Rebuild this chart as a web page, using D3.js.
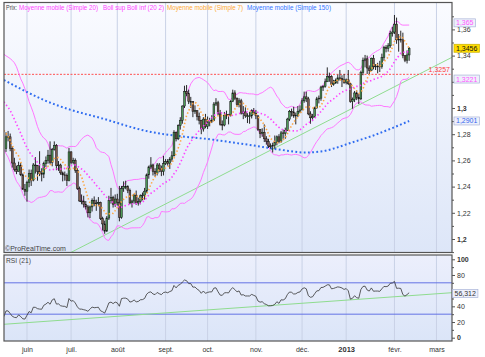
<!DOCTYPE html>
<html><head><meta charset="utf-8">
<script src="https://cdn.jsdelivr.net/npm/d3@7"></script>
<style>
body{margin:0;background:#fff;}
svg text{font-family:"Liberation Sans",Arial,sans-serif;}
</style></head><body>
<svg id="chart" width="485" height="357"></svg>
<script>
// ---- data (EUR/USD daily, 18 May 2012 -> 12 Feb 2013), trading-day index ----
const priorCloses = [1.3085,1.3140,1.3220,1.3160,1.3190,1.3235,1.3230,1.3240,1.3235,1.3220,1.3160,1.3150,1.3080,1.3045,1.2975,1.2935,1.2945,1.2915,1.2835,1.2765,1.2720,1.2690];
const closes = [
1.2780,1.2780,1.2690,1.2580,1.2530,1.2515,1.2560,1.2490,1.2380,1.2365,
1.2430,1.2500,1.2450,1.2565,1.2560,1.2515,1.2500,1.2495,1.2575,1.2600,
1.2640,1.2585,1.2685,1.2715,1.2560,1.2565,1.2505,1.2490,1.2485,1.2445,
1.2665,1.2585,1.2600,1.2525,1.2385,1.2290,1.2290,1.2265,1.2245,1.2200,
1.2245,1.2295,1.2270,1.2275,1.2280,1.2155,1.2115,1.2060,1.2160,1.2295,
1.2315,1.2265,1.2305,1.2280,1.2165,1.2385,1.2400,1.2400,1.2370,1.2275,
1.2290,1.2335,1.2275,1.2285,1.2330,1.2335,1.2365,1.2490,1.2550,1.2565,
1.2515,1.2500,1.2565,1.2535,1.2515,1.2575,1.2590,1.2575,1.2610,1.2635,
1.2815,1.2765,1.2865,1.2905,1.3015,1.3125,1.3110,1.3050,1.3050,1.2975,
1.2980,1.2935,1.2905,1.2840,1.2915,1.2860,1.2890,1.2905,1.2905,1.3030,
1.3040,1.2955,1.2875,1.2870,1.2945,1.2950,1.2945,1.3050,1.3115,1.3075,
1.3025,1.3055,1.2960,1.2970,1.2940,1.2940,1.2940,1.2980,1.2960,1.2940,
1.2835,1.2805,1.2815,1.2765,1.2745,1.2710,1.2710,1.2715,1.2735,1.2780,
1.2745,1.2810,1.2805,1.2830,1.2915,1.2975,1.2970,1.2940,1.2945,1.2975,
1.2985,1.3055,1.3085,1.3070,1.2955,1.2925,1.2935,1.3000,1.3070,1.3075,
1.3160,1.3165,1.3200,1.3240,1.3240,1.3180,1.3190,1.3210,1.3230,1.3225,
1.3215,1.3195,1.3215,1.3185,1.3050,1.3065,1.3115,1.3080,1.3070,1.3270,
1.3365,1.3375,1.3305,1.3285,1.3380,1.3315,1.3320,1.3320,1.3315,1.3385,
1.3460,1.3455,1.3475,1.3570,1.3580,1.3640,1.3520,1.3525,1.3520,1.3400,
1.3365,1.3405,1.3456];
const highs = [
1.2815,1.2825,1.2805,1.2710,1.2620,1.2560,1.2590,1.2580,1.2500,1.2420,
1.2445,1.2530,1.2530,1.2580,1.2625,1.2565,1.2670,1.2540,1.2590,1.2630,
1.2680,1.2745,1.2695,1.2745,1.2725,1.2595,1.2575,1.2515,1.2515,1.2500,
1.2695,1.2670,1.2620,1.2615,1.2540,1.2400,1.2340,1.2330,1.2290,1.2260,
1.2255,1.2310,1.2325,1.2300,1.2320,1.2285,1.2170,1.2140,1.2175,1.2330,
1.2390,1.2330,1.2340,1.2345,1.2405,1.2405,1.2440,1.2445,1.2410,1.2385,
1.2300,1.2345,1.2370,1.2315,1.2340,1.2355,1.2390,1.2500,1.2560,1.2625,
1.2575,1.2540,1.2580,1.2580,1.2560,1.2635,1.2610,1.2610,1.2625,1.2670,
1.2830,1.2820,1.2875,1.2930,1.3020,1.3170,1.3175,1.3140,1.3085,1.3050,
1.3020,1.2980,1.2965,1.2910,1.2930,1.2955,1.2935,1.2925,1.2945,1.3045,
1.3075,1.3055,1.2985,1.2905,1.2970,1.2980,1.2955,1.3060,1.3140,1.3135,
1.3080,1.3075,1.3070,1.3015,1.3005,1.2960,1.2970,1.2990,1.3000,1.2985,
1.2945,1.2840,1.2845,1.2875,1.2785,1.2765,1.2730,1.2735,1.2790,1.2790,
1.2800,1.2825,1.2835,1.2850,1.2925,1.2985,1.2995,1.3010,1.2965,1.3015,
1.3020,1.3075,1.3125,1.3125,1.3085,1.2975,1.2955,1.3010,1.3085,1.3095,
1.3170,1.3175,1.3225,1.3310,1.3270,1.3250,1.3215,1.3225,1.3255,1.3290,
1.3250,1.3260,1.3225,1.3290,1.3190,1.3080,1.3130,1.3135,1.3110,1.3285,
1.3385,1.3405,1.3400,1.3325,1.3385,1.3405,1.3335,1.3345,1.3360,1.3415,
1.3475,1.3480,1.3495,1.3590,1.3620,1.3710,1.3690,1.3565,1.3590,1.3575,
1.3400,1.3440,1.3465];
const lows = [
1.2665,1.2745,1.2670,1.2545,1.2515,1.2495,1.2515,1.2480,1.2375,1.2330,
1.2285,1.2395,1.2405,1.2440,1.2500,1.2445,1.2480,1.2440,1.2465,1.2550,
1.2575,1.2570,1.2555,1.2675,1.2525,1.2520,1.2490,1.2440,1.2445,1.2405,
1.2440,1.2570,1.2570,1.2505,1.2375,1.2285,1.2265,1.2240,1.2225,1.2165,
1.2160,1.2210,1.2250,1.2215,1.2250,1.2145,1.2065,1.2040,1.2055,1.2145,
1.2270,1.2240,1.2245,1.2255,1.2135,1.2155,1.2360,1.2380,1.2350,1.2265,
1.2240,1.2270,1.2260,1.2255,1.2265,1.2295,1.2300,1.2350,1.2460,1.2535,
1.2485,1.2475,1.2485,1.2510,1.2480,1.2485,1.2565,1.2560,1.2535,1.2590,
1.2630,1.2745,1.2755,1.2835,1.2880,1.3000,1.3090,1.3030,1.3000,1.2930,
1.2955,1.2905,1.2875,1.2800,1.2820,1.2845,1.2840,1.2860,1.2885,1.2900,
1.3015,1.2945,1.2865,1.2830,1.2860,1.2915,1.2875,1.2935,1.3045,1.3060,
1.3010,1.3005,1.2950,1.2915,1.2925,1.2885,1.2880,1.2920,1.2950,1.2915,
1.2825,1.2770,1.2780,1.2740,1.2720,1.2695,1.2690,1.2660,1.2690,1.2715,
1.2730,1.2735,1.2765,1.2765,1.2825,1.2900,1.2935,1.2925,1.2875,1.2930,
1.2960,1.2985,1.3040,1.3045,1.2945,1.2880,1.2900,1.2925,1.2995,1.3035,
1.3055,1.3130,1.3155,1.3200,1.3200,1.3160,1.3170,1.3185,1.3185,1.3210,
1.3160,1.3185,1.3180,1.3175,1.3040,1.2995,1.3045,1.3060,1.3030,1.3060,
1.3250,1.3310,1.3260,1.3255,1.3285,1.3295,1.3290,1.3265,1.3275,1.3300,
1.3360,1.3425,1.3430,1.3460,1.3545,1.3565,1.3490,1.3430,1.3500,1.3380,
1.3350,1.3340,1.3360];
// 150-day simple moving average at sample indices
const sma150Index  = [-1, 10, 18, 30, 45, 69, 80, 96, 116, 135, 142, 150, 157, 164, 174, 184, 192];
const sma150Values = [1.3214,1.3122,1.3061,1.2990,1.2924,1.2817,1.2790,1.2763,1.2718,1.2672,1.2660,1.2668,1.2695,1.2733,1.2785,1.2847,1.2901];
const monthLabels = ["juin","juil.","août","sept.","oct.","nov.","déc.","2013","févr.","mars"];
const monthIndex  = [10, 31, 53, 76, 96, 119, 141, 162, 185, 205];
const priceTicksMajor = [1.20,1.22,1.24,1.26,1.28,1.30,1.32,1.34,1.36];
const priceTicksMinor = [1.19,1.21,1.23,1.25,1.27,1.29,1.31,1.33,1.35,1.37];
const priceTicksHidden = [1.32];   // label covered by a price tag
const rsiTicksMajor = [0,20,40,60,80,100];
const rsiTicksMinor = [10,30,50,70,90];
const rsiTicksHidden = [60];       // label covered by the RSI tag
const priceTagValues = [1.365, 1.3456, 1.3221, 1.2901];
const priceTagTexts  = ["1,365","1,3456","1,3221","1,2901"];
const supportLevel = 1.3257;
const trendIndex = [30, 212.4], trendPrice = [1.189, 1.3387];
const rsiTrendIndex = [-1, 212.4], rsiTrendValue = [17.1, 57.4];
const rsiLevels = [30, 70];
const rsiLast = 56.312;
const legendTexts = ["Prix:","Moyenne mobile (Simple 20)","Boll sup Boll inf (20 2)","Moyenne mobile (Simple 7)","Moyenne mobile (Simple 150)"];

// ---- layout ----
const L = 4, R = 452, mainTop = 2.5, mainBot = 252.5, rsiTop = 255, rsiBot = 341;
const svg = d3.select("#chart");
const x = d3.scaleLinear().domain([-0.95, 212.4]).range([L, R]);
const y = d3.scaleLinear().domain([1.2, 1.36]).range([239, 239 - 0.16*1310]);
const ry = d3.scaleLinear().domain([0, 100]).range([337.7, 259.3]);
const fr = d3.formatLocale({decimal:",", thousands:" ", grouping:[3], currency:["","€"]});
const fmtP = fr.format(".3~f");

const defs = svg.append("defs");
const g1 = defs.append("linearGradient").attr("id","bgMain").attr("x1",0).attr("y1",0).attr("x2",0).attr("y2",1);
g1.append("stop").attr("offset","0%").attr("stop-color","#fafbff");
g1.append("stop").attr("offset","100%").attr("stop-color","#dde6f8");
const g2 = defs.append("linearGradient").attr("id","bgRsi").attr("x1",0).attr("y1",0).attr("x2",0).attr("y2",1);
g2.append("stop").attr("offset","0%").attr("stop-color","#eceffc");
g2.append("stop").attr("offset","100%").attr("stop-color","#dbe5f8");
defs.append("clipPath").attr("id","clipMain").append("rect").attr("x",L).attr("y",mainTop).attr("width",R-L).attr("height",mainBot-mainTop);
defs.append("clipPath").attr("id","clipRsi").append("rect").attr("x",L).attr("y",rsiTop).attr("width",R-L).attr("height",rsiBot-rsiTop);

svg.append("rect").attr("x",L).attr("y",mainTop).attr("width",R-L).attr("height",mainBot-mainTop).attr("fill","url(#bgMain)");
svg.append("rect").attr("x",L).attr("y",rsiTop).attr("width",R-L).attr("height",rsiBot-rsiTop).attr("fill","url(#bgRsi)");

[[mainTop,mainBot],[rsiTop,rsiBot]].forEach(([t,b])=>{
  svg.append("g").selectAll("line").data(monthIndex).join("line")
    .attr("x1",d=>x(d)).attr("x2",d=>x(d)).attr("y1",t).attr("y2",b)
    .attr("stroke","#c9d2e6").attr("stroke-width",1);
});

// ---- indicators ----
const all = priorCloses.concat(closes);
const off = priorCloses.length;
const idxs = d3.range(-1, closes.length);
function sma(k,n){ return d3.mean(all.slice(k-n+1,k+1)); }
function bb(k){ const s=all.slice(k-19,k+1), m=d3.mean(s), sd=Math.sqrt(d3.mean(s,v=>(v-m)*(v-m))); return [m+2*sd, m-2*sd]; }
const sma20 = idxs.map(i=>({i, v:sma(i+off,20)}));
const sma7  = idxs.map(i=>({i, v:sma(i+off,7)}));
const bbUp = idxs.map(i=>({i, v:bb(i+off)[0]}));
const bbLo = idxs.map(i=>({i, v:bb(i+off)[1]}));
const N=21; let ag=0, al=0; const rsi=[];
for(let k=1;k<all.length;k++){
  const ch=all[k]-all[k-1], gn=Math.max(ch,0), ls=Math.max(-ch,0);
  if(k<=N){ ag+=gn/N; al+=ls/N; }
  else { ag=(ag*(N-1)+gn)/N; al=(al*(N-1)+ls)/N; }
  if(k>=N) rsi.push({i:k-off, v: 100 - 100/(1+ag/al)});
}

const main = svg.append("g").attr("clip-path","url(#clipMain)");
const line = d3.line().x(d=>x(d.i)).y(d=>y(d.v));
main.append("line").attr("x1",x(trendIndex[0])).attr("y1",y(trendPrice[0])).attr("x2",x(trendIndex[1])).attr("y2",y(trendPrice[1]))
  .attr("stroke","#8fdc8f").attr("stroke-width",1);
main.append("line").attr("x1",L).attr("x2",R).attr("y1",y(supportLevel)).attr("y2",y(supportLevel))
  .attr("stroke","#ff5050").attr("stroke-width",1).attr("stroke-dasharray","2,1.5");
main.append("path").datum(bbUp).attr("d",line).attr("fill","none").attr("stroke","#ff77ff").attr("stroke-width",1);
main.append("path").datum(bbLo).attr("d",line).attr("fill","none").attr("stroke","#ff77ff").attr("stroke-width",1);
const sma150 = sma150Index.map((i,k)=>({i, v:sma150Values[k]}));
main.append("path").datum(sma150).attr("d",d3.line().x(d=>x(d.i)).y(d=>y(d.v)).curve(d3.curveMonotoneX))
  .attr("fill","none").attr("stroke","#2f6cf0").attr("stroke-width",2).attr("stroke-dasharray","1.8,2.4");

const cg = main.append("g");
closes.forEach((c,i)=>{
  const o = i===0 ? priorCloses[priorCloses.length-1] : closes[i-1];
  const cx = x(i);
  cg.append("line").attr("x1",cx).attr("x2",cx).attr("y1",y(highs[i])).attr("y2",y(lows[i])).attr("stroke","#111").attr("stroke-width",0.9);
  const top = y(Math.max(o,c)), bot = y(Math.min(o,c));
  cg.append("rect").attr("x",cx-0.9).attr("width",1.8).attr("y",top).attr("height",Math.max(bot-top,0.8))
    .attr("fill", c>=o ? "#4e9a58" : "#7a5a4e").attr("stroke","#111").attr("stroke-width",0.5);
});
main.append("path").datum(sma20).attr("d",line).attr("fill","none").attr("stroke","#ff40ff").attr("stroke-width",1.6).attr("stroke-dasharray","1.4,2.4");
main.append("path").datum(sma7).attr("d",line).attr("fill","none").attr("stroke","#ffa640").attr("stroke-width",1.6).attr("stroke-dasharray","1.4,2.2");

svg.append("text").attr("x",450).attr("y",y(supportLevel)-2).attr("text-anchor","end").attr("font-size",7).attr("fill","#ff4040").text(fr.format(".4f")(supportLevel));

// ---- RSI panel ----
const rg = svg.append("g").attr("clip-path","url(#clipRsi)");
rg.selectAll("line.lv").data(rsiLevels).join("line").attr("x1",L).attr("x2",R).attr("y1",d=>ry(d)).attr("y2",d=>ry(d))
  .attr("stroke","#6472e4").attr("stroke-width",1);
rg.append("line").attr("x1",x(rsiTrendIndex[0])).attr("y1",ry(rsiTrendValue[0])).attr("x2",x(rsiTrendIndex[1])).attr("y2",ry(rsiTrendValue[1]))
  .attr("stroke","#8fdc8f").attr("stroke-width",1);
rg.append("path").datum(rsi).attr("d",d3.line().x(d=>x(d.i)).y(d=>ry(d.v))).attr("fill","none").attr("stroke","#333").attr("stroke-width",0.8);

svg.append("rect").attr("x",L).attr("y",mainTop).attr("width",R-L).attr("height",mainBot-mainTop).attr("fill","none").attr("stroke","#555").attr("stroke-width",1.2);
svg.append("rect").attr("x",L).attr("y",rsiTop).attr("width",R-L).attr("height",rsiBot-rsiTop).attr("fill","none").attr("stroke","#555").attr("stroke-width",1.2);

// ---- axes ----
function styleAxis(g){ g.select(".domain").remove(); g.selectAll("line").attr("stroke","#555"); g.selectAll("text").attr("fill","#333").attr("font-size",7).attr("font-family","Liberation Sans, Arial, sans-serif"); }
svg.append("g").attr("transform",`translate(${R},0)`).call(d3.axisRight(y).tickValues(priceTicksMinor).tickSize(2).tickFormat("")).call(styleAxis);
const ya = svg.append("g").attr("transform",`translate(${R},0)`).call(d3.axisRight(y).tickValues(priceTicksMajor).tickSize(3).tickPadding(2).tickFormat(fmtP)).call(styleAxis);
ya.selectAll("text").attr("font-weight",d=>(Math.abs(d-1.2)<1e-9||Math.abs(d-1.3)<1e-9)?"bold":"normal")
  .filter(d=>priceTicksHidden.some(h=>Math.abs(h-d)<1e-9)).remove();
svg.append("g").attr("transform",`translate(${R},0)`).call(d3.axisRight(ry).tickValues(rsiTicksMinor).tickSize(2).tickFormat("")).call(styleAxis);
const ra = svg.append("g").attr("transform",`translate(${R},0)`).call(d3.axisRight(ry).tickValues(rsiTicksMajor).tickSize(3).tickPadding(2)).call(styleAxis);
ra.selectAll("text").attr("font-weight",d=>(d===0||d===100)?"bold":"normal")
  .filter(d=>rsiTicksHidden.includes(d)).remove();
const xa = svg.append("g").attr("transform",`translate(0,${rsiBot+4})`)
  .call(d3.axisBottom(x).tickValues(monthIndex).tickSize(0).tickPadding(2).tickFormat((d,k)=>monthLabels[k])).call(styleAxis);
xa.selectAll("text").attr("font-weight",(d,k)=>monthLabels[k]==="2013"?"bold":"normal").attr("font-size",(d,k)=>monthLabels[k]==="2013"?7.5:7);

// price tags
const tagStyle = [{fill:"#eef0fb",stroke:"#a9b4d8",col:"#ff55ff"},{fill:"#ffdc00",stroke:"#c8b000",col:"#111"},{fill:"#eef0fb",stroke:"#a9b4d8",col:"#ff55ff"},{fill:"#eef0fb",stroke:"#a9b4d8",col:"#3366ee"}];
function tag(px, gy, txt, st){
  const g = svg.append("g");
  const r = g.append("rect").attr("x",px).attr("y",gy-4).attr("height",8)
    .attr("fill",st.fill).attr("stroke",st.stroke).attr("stroke-width",0.7);
  const t = g.append("text").attr("x",px+2).attr("y",gy+2.5).attr("font-size",7).attr("fill",st.col).text(txt);
  r.attr("width", t.node().getComputedTextLength()+4);
}
priceTagValues.forEach((v,k)=> tag(454, y(v), priceTagTexts[k], tagStyle[k]));
tag(452.5, ry(rsiLast), fr.format(".3f")(rsiLast), {fill:"#eef0fb",stroke:"#a9b4d8",col:"#333"});

// ---- legend / captions ----
const legX = [6, 19, 103, 167, 247], legW = [11, 79, 61, 76, 84];
const legC = ["#444","#ff44ff","#ff44ff","#ffaa33","#3377ff"];
svg.append("g").selectAll("text").data(legendTexts).join("text").attr("x",(d,k)=>legX[k]).attr("y",9.8).attr("font-size",6.8)
  .attr("fill",(d,k)=>legC[k]).attr("textLength",(d,k)=>legW[k]).attr("lengthAdjust","spacingAndGlyphs").text(d=>d);
svg.append("text").attr("x",5).attr("y",251).attr("font-size",7).attr("fill","#444").text("©ProRealTime.com");
svg.append("text").attr("x",6).attr("y",262.5).attr("font-size",6.7).attr("fill","#444").text("RSI (21)");
</script>
</body></html>
